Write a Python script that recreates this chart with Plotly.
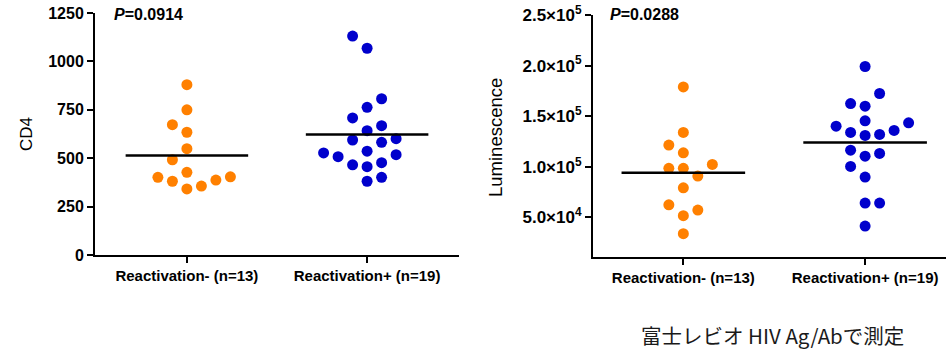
import numpy as np
import plotly.graph_objects as go

W, H = 949, 349

categories = ["Reactivation- (n=13)", "Reactivation+ (n=19)"]

cd4_neg = [880, 750, 673, 634, 549, 492, 427, 404, 401, 387, 381, 356, 341]
cd4_pos = [1131, 1068, 807, 763, 708, 668, 642, 601, 594, 582, 536, 527, 518,
           508, 477, 466, 456, 401, 381]
lum_neg = [178900, 133900, 121400, 113800, 102300, 98400, 98400, 90800, 79200,
           62400, 57200, 51600, 33800]
lum_pos = [199100, 172400, 162500, 159900, 145400, 143400, 140100, 135900,
           133900, 131900, 131000, 116400, 113200, 110500, 100300, 89800,
           64100, 64100, 41400]

p_values = ["0.0914", "0.0288"]
y_titles = ["CD4", "Luminescence"]
cd4_ticks = [0, 250, 500, 750, 1000, 1250]
lum_ticks = [50000, 100000, 150000, 200000, 250000]
caption = "富士レビオ HIV Ag/Abで測定"

ORANGE = "#FF8000"
BLUE = "#0000CC"
FONT = "Liberation Sans"


def sci_label(v):
    e = int(np.floor(np.log10(v)))
    m = v / 10 ** e
    return f"{m:.1f}×10<sup>{e}</sup>"


def px(x0, x1, y0, y1):
    """pixel box -> paper domains"""
    return [x0 / W, x1 / W], [1 - y1 / H, 1 - y0 / H]


def swarm(values, ppu_y, step_px=14.5, min_dist=14.0):
    order = np.argsort(values, kind="stable")
    placed = []
    slots = [0] * len(values)
    for idx in order:
        y = values[idx] * ppu_y
        best = 0
        for k in range(0, 30):
            opts = [0] if k == 0 else [k, -k]
            free = [s for s in opts
                    if all(np.hypot((s - ps) * step_px, y - py) >= min_dist
                           for py, ps in placed)]
            if free:
                tot = sum(ps for _, ps in placed)
                best = min(free, key=lambda s: (abs(tot + s), -s))
                break
        slots[idx] = best
        placed.append((y, best))
    return np.array(slots), step_px


panels = [
    dict(neg=cd4_neg, pos=cd4_pos, box=(95, 459, 13, 255), xr=[-0.51, 1.51],
         yr=[0, 1250], ticks=cd4_ticks, ticktext=[str(t) for t in cd4_ticks],
         p=p_values[0], p_xy=(112, 14), title=y_titles[0], t_xy=(26, 134),
         tsize=17, tfs=16),
    dict(neg=lum_neg, pos=lum_pos, box=(593, 946, 15, 257), xr=[-0.497, 1.445],
         yr=[10800, 250000], ticks=lum_ticks,
         ticktext=[sci_label(t) for t in lum_ticks],
         p=p_values[1], p_xy=(608, 14), title=y_titles[1], t_xy=(495, 137),
         tsize=18.5, tfs=17),
]

fig = go.Figure()
annotations = []
layout = {}
for i, pnl in enumerate(panels):
    x0, x1, y0, y1 = pnl["box"]
    xd, yd = px(x0, x1, y0, y1)
    ppu_x = (x1 - x0) / (pnl["xr"][1] - pnl["xr"][0])
    ppu_y = (y1 - y0) / (pnl["yr"][1] - pnl["yr"][0])
    xa = "x" if i == 0 else f"x{i+1}"
    ya = "y" if i == 0 else f"y{i+1}"
    for c, (vals, col) in enumerate([(pnl["neg"], ORANGE), (pnl["pos"], BLUE)]):
        vals = np.array(vals, dtype=float)
        slots, step = swarm(vals, ppu_y)
        xs = c + slots * step / ppu_x
        fig.add_trace(go.Scatter(x=xs, y=vals, mode="markers", xaxis=xa, yaxis=ya,
                                 marker=dict(color=col, size=11, line=dict(width=0)),
                                 showlegend=False, hoverinfo="y"))
        m = vals.mean()
        fig.add_trace(go.Scatter(x=[c - 0.34, c + 0.34], y=[m, m], mode="lines",
                                 xaxis=xa, yaxis=ya,
                                 line=dict(color="black", width=2.5),
                                 showlegend=False, hoverinfo="skip"))
    axcommon = dict(showline=True, linecolor="black", linewidth=2, ticks="outside",
                    ticklen=6, tickwidth=2, tickcolor="black", showgrid=False,
                    zeroline=False, fixedrange=True, automargin=False)
    layout["xaxis" if i == 0 else f"xaxis{i+1}"] = dict(
        domain=xd, range=pnl["xr"], tickvals=[0, 1], ticktext=categories,
        anchor=ya, tickfont=dict(family=FONT, size=15, color="black",
                                 weight="bold"), **axcommon)
    layout["yaxis" if i == 0 else f"yaxis{i+1}"] = dict(
        domain=yd, range=pnl["yr"], tickvals=pnl["ticks"], ticktext=pnl["ticktext"],
        anchor=xa, tickfont=dict(family=FONT, size=pnl["tfs"], color="black",
                                 weight="bold"), **axcommon)
    annotations.append(dict(text=f"<b><i>P</i>={pnl['p']}</b>", x=pnl["p_xy"][0] / W,
                            y=1 - pnl["p_xy"][1] / H, xref="paper", yref="paper",
                            xanchor="left", yanchor="middle", showarrow=False,
                            font=dict(family=FONT, size=16, color="black")))
    annotations.append(dict(text=pnl["title"], x=pnl["t_xy"][0] / W,
                            y=1 - pnl["t_xy"][1] / H, xref="paper", yref="paper",
                            xanchor="center", yanchor="middle", textangle=-90,
                            showarrow=False,
                            font=dict(family=FONT, size=pnl["tsize"], color="black")))

annotations.append(dict(text=caption, x=772 / W, y=1 - 335 / H, xref="paper",
                        yref="paper", xanchor="center", yanchor="middle",
                        showarrow=False,
                        font=dict(family="Noto Sans CJK JP", size=20.5, color="#1a1a1a")))

fig.update_layout(width=W, height=H, margin=dict(l=0, r=0, t=0, b=0, autoexpand=False),
                  paper_bgcolor="white", plot_bgcolor="white", template="none",
                  hovermode=False, annotations=annotations, **layout)

fig.write_html("out.html",
               config={"displayModeBar": False, "staticPlot": True},
               post_script="document.body.style.margin='0';"
                           "document.body.style.overflow='hidden';")
